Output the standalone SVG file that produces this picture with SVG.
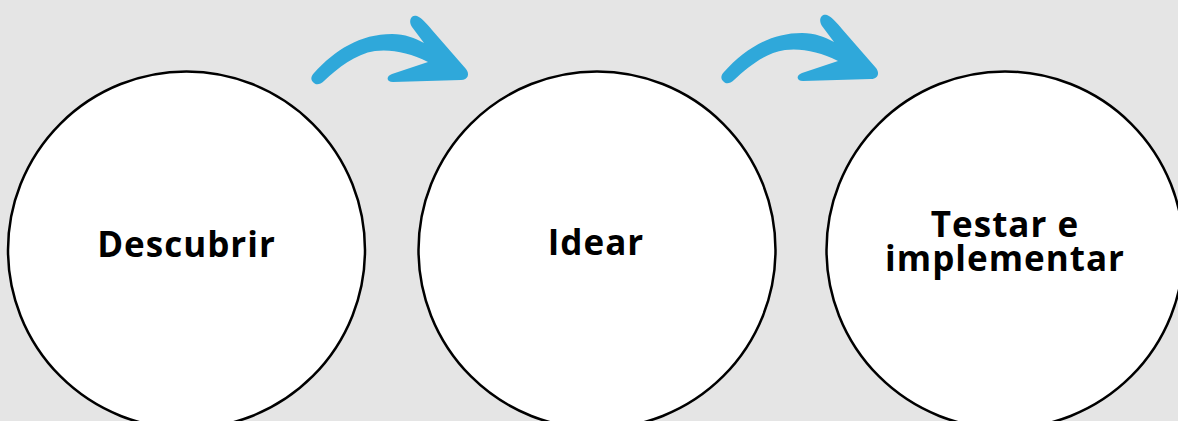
<svg xmlns="http://www.w3.org/2000/svg" width="1178" height="421" viewBox="0 0 1178 421">
<style>
.node{fill:#ffffff;stroke:#000000;stroke-width:2.5}
.lbl{font-family:"Open Sans","Liberation Sans",sans-serif;font-weight:700;font-size:35px;fill:#000000;text-anchor:middle;letter-spacing:1px}
.arrow{fill:#2fa8da}
</style>
<defs>
<path id="arr" d="M 314,83 C 310,80 311,76 314,73 C 335,50 360,34 392,34 C 405,34 415,38 424,43 L 412,27 C 408,21 411,14 417,16 C 422,18 428,25 432,30 L 466,69 C 470,74 468,80 461,80 L 393,82 C 386,82 386,76 392,74 L 428,62 C 410,53 392,49 375,51 C 355,54 338,68 324,81 C 320,85 316,85 314,83 Z"/>
</defs>
<rect width="1178" height="421" fill="#e5e5e5"/>
<g id="connectors">
<use href="#arr" class="arrow"/>
<use href="#arr" class="arrow" transform="translate(410,-1)"/>
</g>
<g id="node-descubrir">
<circle class="node" cx="186.5" cy="250" r="178.5"/>
<text class="lbl" x="186.5" y="257">Descubrir</text>
</g>
<g id="node-idear">
<circle class="node" cx="597" cy="250" r="178.5"/>
<text class="lbl" x="596" y="255">Idear</text>
</g>
<g id="node-testar">
<circle class="node" cx="1005" cy="250" r="178.5"/>
<text class="lbl" x="1005" y="237">Testar e</text>
<text class="lbl" x="1005" y="271">implementar</text>
</g>
</svg>
